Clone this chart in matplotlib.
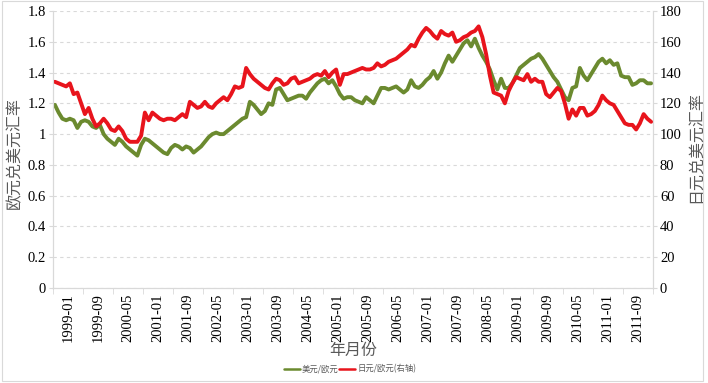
import matplotlib
matplotlib.use("Agg")
import matplotlib.pyplot as plt
from matplotlib.patches import Rectangle

# monthly data, 1999-01 .. 2012-04 (160 months)
usd_per_eur = [
    1.19, 1.14, 1.10, 1.09, 1.10, 1.09, 1.04, 1.08, 1.09, 1.08, 1.05, 1.04,
    1.06, 1.00, 0.97, 0.95, 0.93, 0.97, 0.95, 0.92, 0.90, 0.88, 0.86, 0.93,
    0.97, 0.96, 0.94, 0.92, 0.90, 0.88, 0.87, 0.91, 0.93, 0.92, 0.90, 0.92,
    0.91, 0.88, 0.90, 0.92, 0.95, 0.98, 1.00, 1.01, 1.00, 1.00, 1.02, 1.04,
    1.06, 1.08, 1.10, 1.11, 1.21, 1.19, 1.16, 1.13, 1.15, 1.20, 1.19, 1.29,
    1.30, 1.26, 1.22, 1.23, 1.24, 1.25, 1.25, 1.23, 1.27, 1.30, 1.33, 1.35,
    1.36, 1.33, 1.35, 1.31, 1.26, 1.23, 1.24, 1.24, 1.22, 1.21, 1.20, 1.24,
    1.22, 1.20, 1.25, 1.30, 1.30, 1.29, 1.30, 1.31, 1.29, 1.27, 1.29, 1.35,
    1.31, 1.30, 1.32, 1.35, 1.37, 1.41, 1.36, 1.40, 1.46, 1.51, 1.47, 1.51,
    1.55, 1.59, 1.61, 1.57, 1.62, 1.56, 1.51, 1.47, 1.42, 1.35, 1.29, 1.36,
    1.30, 1.30, 1.33, 1.38, 1.43, 1.45, 1.47, 1.49, 1.50, 1.52, 1.49, 1.45,
    1.41, 1.37, 1.34, 1.29, 1.24, 1.22, 1.30, 1.31, 1.43, 1.38, 1.35, 1.39,
    1.43, 1.47, 1.49, 1.46, 1.48, 1.45, 1.46, 1.38, 1.37, 1.37, 1.32, 1.33,
    1.35, 1.35, 1.33, 1.33,
]

jpy_per_eur = [
    134, 133, 132, 131, 133, 126, 127, 120, 113, 117, 110, 105,
    107, 110, 107, 103, 102, 105, 102, 97, 95, 95, 95, 99,
    114, 109, 114, 112, 110, 109, 110, 110, 109, 111, 113, 111,
    121, 119, 117, 118, 121, 118, 117, 120, 122, 124, 122, 126,
    131, 130, 131, 143, 139, 136, 134, 132, 130, 129, 133, 136,
    135, 132, 133, 136, 137, 133, 134, 135, 136, 138, 139, 138,
    141, 137, 140, 142, 132, 139, 139, 140, 141, 142, 143, 142,
    142, 143, 146, 144, 145, 147, 148, 149, 151, 153, 155, 158,
    157, 162, 166, 169, 167, 164, 162, 167, 165, 164, 166, 160,
    161, 163, 164, 166, 167, 170, 163, 152, 138, 127, 126, 125,
    120, 128, 133, 137, 136, 135, 139, 134, 136, 134, 134, 126,
    124, 127, 130, 128, 120, 110, 116, 112, 117, 117, 112, 113,
    115, 119, 125, 122, 120, 119, 115, 111, 107, 106, 106, 103,
    107, 113, 110, 108,
]

tick_labels = [
    "1999-01", "1999-09", "2000-05", "2001-01", "2001-09", "2002-05",
    "2003-01", "2003-09", "2004-05", "2005-01", "2005-09", "2006-05",
    "2007-01", "2007-09", "2008-05", "2009-01", "2009-09", "2010-05",
    "2011-01", "2011-09",
]

W, H = 708, 383
GREEN = "#6b8a2f"
RED = "#e8141c"
GRID = "#d9d9d9"
TEXT = "#595959"
cjk_font = ["Noto Sans CJK SC", "DejaVu Sans"]

plt.rcParams["font.serif"] = ["Liberation Serif", "DejaVu Serif"]
plt.rcParams["font.family"] = "serif"
plt.rcParams["font.size"] = 10.5

fig = plt.figure(figsize=(W / 100, H / 100), dpi=100)
fig.patches.append(Rectangle((2 / W, 2 / H), 701 / W, 380 / H, transform=fig.transFigure,
                             fill=False, edgecolor=GRID, lw=0.8))

ax = fig.add_axes([53 / W, 1 - 288 / H, 600 / W, 277 / H])
ax2 = ax.twinx()

months = range(len(usd_per_eur))
ax.plot(months, usd_per_eur, color=GREEN, lw=2.8, solid_joinstyle="round",
        solid_capstyle="round", label="美元/欧元")
ax2.plot(months, jpy_per_eur, color=RED, lw=2.8, solid_joinstyle="round",
         solid_capstyle="round", label="日元/欧元(右轴)")

ax.set_xlim(-0.5, len(usd_per_eur) - 0.5)
ax.set_ylim(0, 1.8)
ax2.set_ylim(0, 180)

ax.set_yticks([i * 0.2 for i in range(10)])
ax.set_yticklabels(["0", "0.2", "0.4", "0.6", "0.8", "1", "1.2", "1.4", "1.6", "1.8"])
ax2.set_yticks(range(0, 181, 20))

# labels sit in the middle of each 8-month group, tick marks on the group edges
ax.set_xticks([3.5 + 8 * k for k in range(len(tick_labels))])
ax.set_xticklabels(tick_labels, rotation=90)
ax.set_xticks([-0.5 + 8 * k for k in range(len(tick_labels) + 1)], minor=True)
ax.tick_params(axis="x", which="major", length=0, pad=4, labelsize=10.5)
ax.tick_params(axis="x", which="minor", length=4, color=GRID)

for a in (ax, ax2):
    a.tick_params(axis="y", length=3, color=GRID, pad=2, labelsize=10.5)
    a.spines["top"].set_visible(False)
    for side in ("left", "right", "bottom"):
        a.spines[side].set_color(GRID)

ax.yaxis.grid(True, linestyle=(0, (3, 3)), color=GRID, lw=0.8)
ax.set_axisbelow(True)

fig.text(15 / W, 1 - 153 / H, "欧元兑美元汇率", rotation=90, ha="center", va="center",
         fontsize=11.5, color=TEXT, family=cjk_font)
fig.text(695 / W, 1 - 147 / H, "日元兑美元汇率", rotation=90, ha="center", va="center",
         fontsize=11.5, color=TEXT, family=cjk_font)
fig.text(353 / W, 1 - 350 / H, "年月份", ha="center", va="center",
         fontsize=11.5, color=TEXT, family=cjk_font)

handles = ax.get_lines() + ax2.get_lines()
leg = fig.legend(handles, [h.get_label() for h in handles], loc="center",
                 bbox_to_anchor=(350 / W, 1 - 369 / H), ncol=2, frameon=False,
                 prop={"family": cjk_font, "size": 6}, handlelength=1.9,
                 handletextpad=0.25, columnspacing=0.1)
for t in leg.get_texts():
    t.set_color(TEXT)
for l in leg.get_lines():
    l.set_linewidth(1.8)

fig.savefig("out.png", dpi=100)
